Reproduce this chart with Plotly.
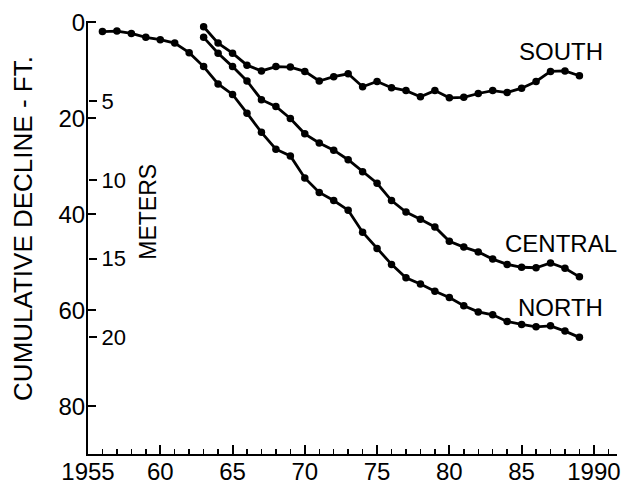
import plotly.graph_objects as go

years_north = list(range(1956, 1990))
north = [1.9, 1.8, 2.3, 3.1, 3.6, 4.3, 6.3, 9.2, 12.8, 15.0, 18.9, 22.9, 26.4, 27.8,
         32.4, 35.4, 37.1, 39.1, 43.7, 47.1, 50.4, 53.2, 54.5, 56.0, 57.3, 59.0,
         60.3, 60.9, 62.3, 62.9, 63.4, 63.2, 64.3, 65.6]

years_sc = list(range(1963, 1990))
central = [3.1, 6.4, 9.2, 12.2, 16.1, 17.5, 20.0, 23.2, 25.1, 26.6, 28.6, 31.1, 33.5,
           37.1, 39.5, 41.0, 42.6, 45.6, 46.8, 47.8, 49.3, 50.4, 51.0, 51.1, 50.1, 51.2, 53.0]
south = [0.9, 4.3, 6.4, 8.9, 10.1, 9.2, 9.3, 10.2, 12.2, 11.3, 10.7, 13.4, 12.3, 13.6,
         14.2, 15.5, 14.2, 15.7, 15.6, 14.8, 14.2, 14.6, 13.7, 12.3, 10.2, 10.1, 11.1]

ft_ticks = [0, 20, 40, 60, 80]
m_ticks = [5, 10, 15, 20]
x_ticks = [1955, 1960, 1965, 1970, 1975, 1980, 1985, 1990]
x_labels = ["1955", "60", "65", "70", "75", "80", "85", "1990"]

FT_PER_M = 3.2808
y_top, y_bot = -0.3, 89.9

FONT = "Liberation Sans, Arial, sans-serif"
fig = go.Figure()
for xs, ys in [(years_north, north), (years_sc, central), (years_sc, south)]:
    fig.add_trace(go.Scatter(x=xs, y=ys, mode="lines+markers",
                             line=dict(color="black", width=2.8),
                             marker=dict(color="black", size=7.5),
                             showlegend=False, hoverinfo="skip"))

fig.add_trace(go.Scatter(x=[1960], y=[10], yaxis="y2", mode="markers",
                         marker=dict(opacity=0), showlegend=False, hoverinfo="skip"))

for txt, yv in [("SOUTH", 6.1), ("CENTRAL", 46.1), ("NORTH", 59.3)]:
    fig.add_annotation(x=1987.7, y=yv, text=txt, showarrow=False,
                       font=dict(family=FONT, size=24, color="black"),
                       xanchor="center", yanchor="middle")

fig.add_annotation(xref="paper", yref="paper", x=-0.123, y=0.522,
                   text="CUMULATIVE DECLINE - FT.", textangle=-90, showarrow=False,
                   font=dict(family=FONT, size=26, color="black"),
                   xanchor="center", yanchor="middle")
fig.add_annotation(xref="paper", yref="paper", x=0.113, y=0.559,
                   text="METERS", textangle=-90, showarrow=False,
                   font=dict(family=FONT, size=23, color="black"),
                   xanchor="center", yanchor="middle")

fig.update_layout(
    width=625, height=485,
    margin=dict(l=88, r=8, t=21, b=31, autoexpand=False),
    paper_bgcolor="white", plot_bgcolor="white",
    font=dict(family=FONT, color="black"),
    xaxis=dict(range=[1955, 1991.6], showgrid=False, zeroline=False, automargin=False,
               showline=True, linecolor="black", linewidth=2,
               tickvals=x_ticks, ticktext=x_labels, ticks="inside", ticklen=9,
               tickwidth=2, tickcolor="black", tickfont=dict(size=24, color="black"),
               ticklabeloverflow="allow", ticklabelstandoff=-5,
               minor=dict(dtick=1, tick0=1955, ticks="inside", ticklen=5,
                          tickwidth=1.5, tickcolor="black", showgrid=False)),
    yaxis=dict(range=[y_bot, y_top], showgrid=False, zeroline=False, automargin=False,
               showline=True, linecolor="black", linewidth=2,
               tickvals=ft_ticks, ticks="inside", ticklen=8, tickwidth=2,
               tickcolor="black", tickfont=dict(size=24, color="black"),
               ticklabelstandoff=-4, ticklabeloverflow="allow"),
    yaxis2=dict(range=[y_bot / FT_PER_M, y_top / FT_PER_M], overlaying="y", side="right",
                anchor="free", position=0, showgrid=False, zeroline=False,
                showline=False, automargin=False,
                tickvals=m_ticks, ticks="outside", ticklen=8, tickwidth=2,
                tickcolor="black", tickfont=dict(size=22, color="black"),
                ticklabelstandoff=0, ticklabeloverflow="allow"),
)

fig.write_html("out.html", config={"displayModeBar": False, "staticPlot": True},
               post_script="document.body.style.margin='0';document.body.style.padding='0';")
